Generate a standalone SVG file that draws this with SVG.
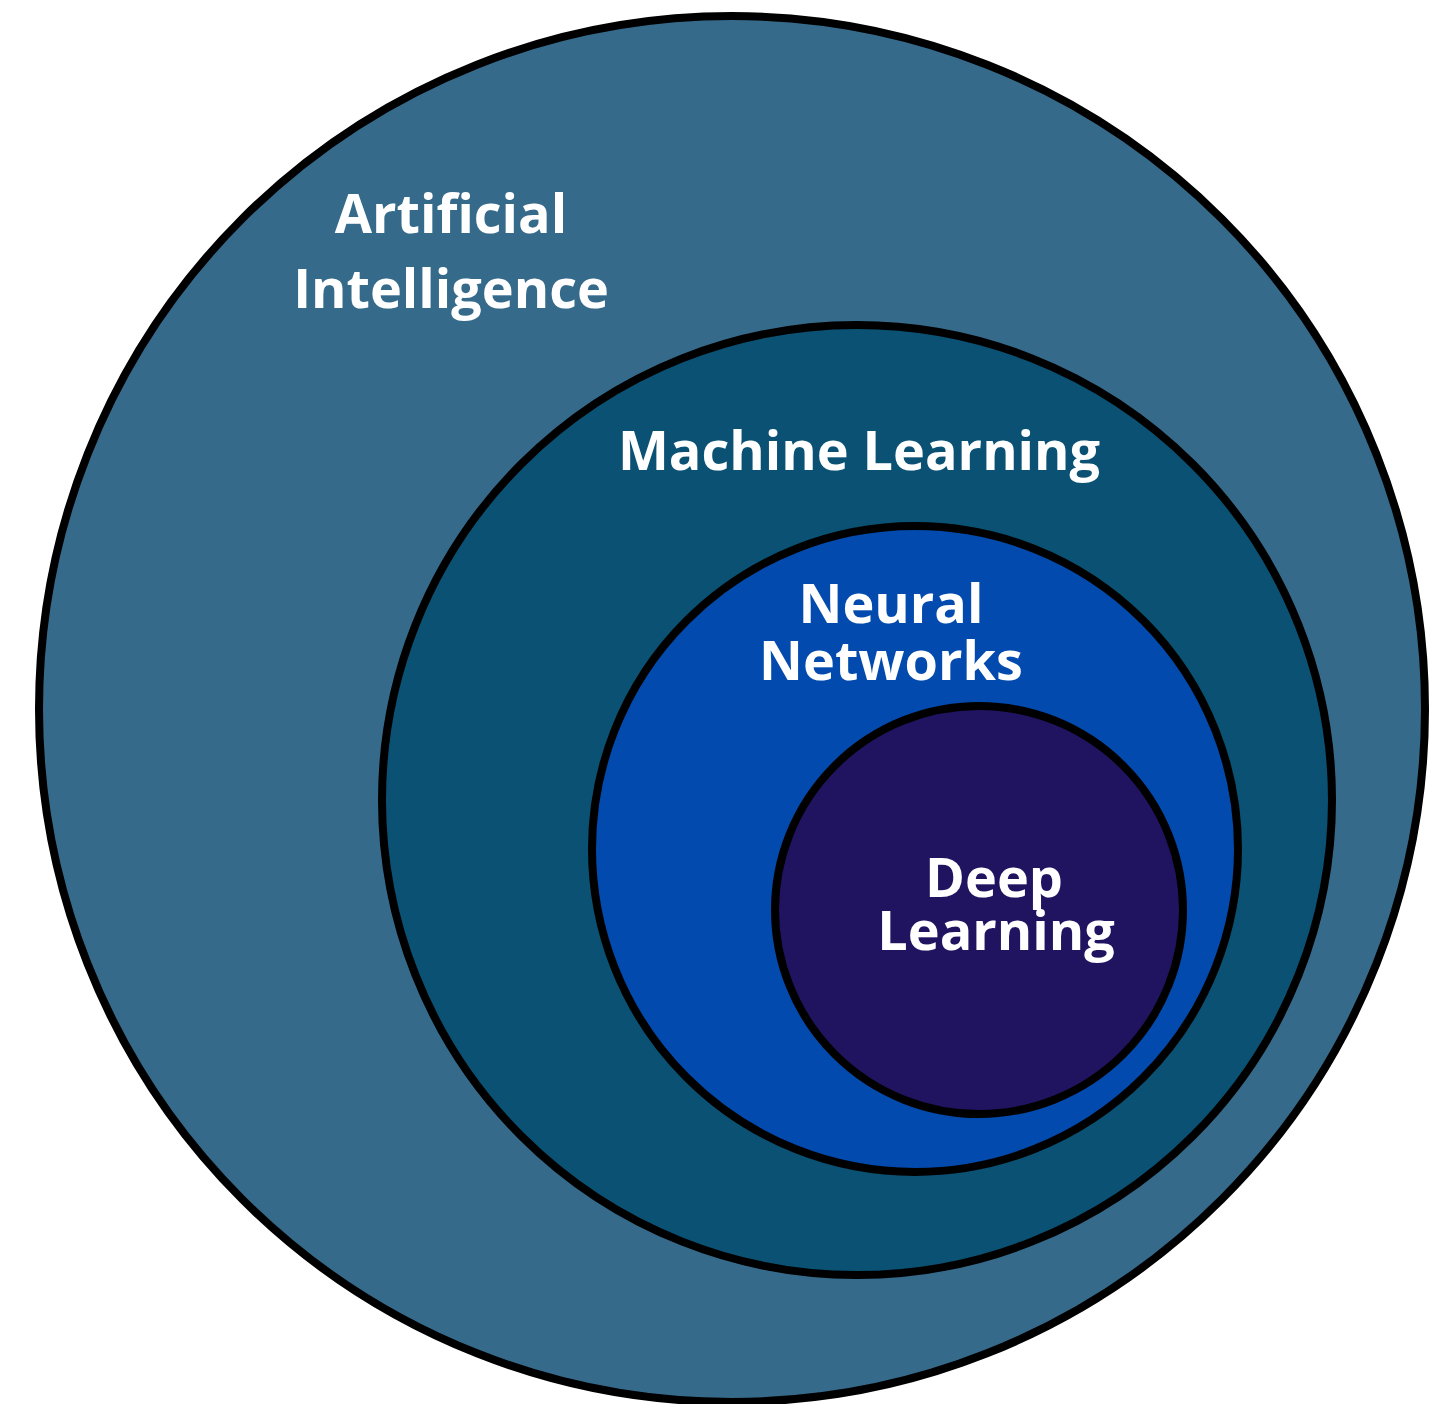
<svg xmlns="http://www.w3.org/2000/svg" width="1441" height="1404" viewBox="0 0 1441 1404">
<style>
.c{stroke:#000;stroke-width:8}
.t{font-family:"Open Sans","Liberation Sans",sans-serif;font-weight:700;fill:#fff;text-anchor:middle;font-size:54px}
</style>
<rect width="1441" height="1404" fill="#fff"/>
<g id="ai"><circle class="c" cx="732" cy="709" r="693" fill="#366a8b"/>
<text class="t" x="451" y="233">Artificial</text><text class="t" x="451" y="308">Intelligence</text></g>
<g id="ml"><circle class="c" cx="857" cy="800" r="475" fill="#0a5173"/>
<text class="t" x="859" y="470">Machine Learning</text></g>
<g id="nn"><circle class="c" cx="915" cy="849" r="323" fill="#024aad"/>
<text class="t" x="891" y="623">Neural</text><text class="t" x="891" y="680">Networks</text></g>
<g id="dl"><circle class="c" cx="979" cy="910" r="204" fill="#201461"/>
<text class="t" x="994" y="897">Deep</text><text class="t" x="996" y="950">Learning</text></g>
<g id="connectors"/>
</svg>
